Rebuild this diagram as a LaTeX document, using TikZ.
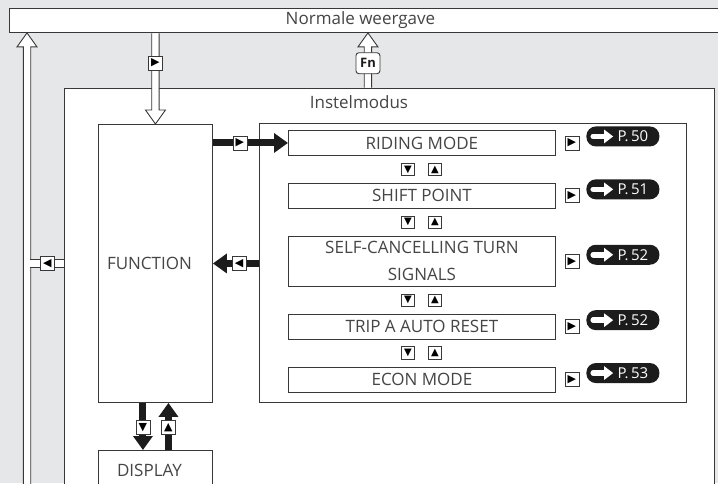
\documentclass[tikz,border=0pt]{standalone}
\usepackage{fontspec}
\setmainfont{Open Sans}
\newfontfamily\symfont{DejaVu Sans}
\usetikzlibrary{arrows.meta,positioning,calc}
\definecolor{bgray}{HTML}{E6E7E8}
\definecolor{ink}{HTML}{383838}
\definecolor{txt}{HTML}{454545}
\definecolor{jet}{HTML}{1C1C1C}

% hollow (outlined) arrow from #1 to the tip #2
\newcommand{\hollowarrow}[2]{%
  \path[hollow] let \p1=(#1), \p2=(#2),
      \n1={atan2(\y2-\y1,\x2-\x1)}, \n2={veclen(\x2-\x1,\y2-\y1)} in
    [shift={(\p1)}, rotate=\n1]
    (0.5,-3.7) -- (\n2-14,-3.7) -- (\n2-14,-10) -- (\n2,0)
    -- (\n2-14,10) -- (\n2-14,3.7) -- (0.5,3.7);}

\begin{document}
\begin{tikzpicture}[x=1pt, y=-1pt,
    frame/.style={draw=ink, fill=white, line width=0.9pt},
    lbl/.style={text=txt, font=\fontsize{17}{20}\selectfont},
    item/.style={frame, lbl, minimum width=267pt, minimum height=25pt, inner sep=1pt, align=center},
    btn/.style={draw=ink, fill=white, line width=0.8pt, minimum size=14pt, inner sep=0pt, font=\symfont\fontsize{11}{11}\selectfont},
    minibtn/.style={btn, minimum size=12.5pt, font=\symfont\fontsize{10}{10}\selectfont},
    fnkey/.style={draw=ink, fill=white, line width=0.9pt, rounded corners=3pt, minimum width=24pt, minimum height=21pt, inner sep=0pt, text=jet, font=\bfseries\fontsize{13}{13}\selectfont},
    pageref/.style={fill=jet, rounded corners=9.5pt, minimum width=73pt, minimum height=20pt, inner sep=0pt, text=white, font=\fontsize{15}{15}\selectfont},
    thickarrow/.style={draw=jet, line width=7pt, -{Triangle[length=14pt, width=19pt]}},
    hollow/.style={draw=ink, fill=white, line width=0.9pt},
    hollowbar/.style={draw=ink, line width=0.9pt, double=white, double distance=6.5pt}
]
\fill[bgray] (0,0) rectangle (718,483);
\useasboundingbox (0,0) rectangle (718,483);
\clip (0,0) rectangle (718,483);

% boxes
\node[frame, anchor=north west, minimum width=722pt, minimum height=24pt, inner sep=0pt,
      label={[lbl, xshift=-10pt]center:Normale weergave}] (normal) at (9,8) {};
\node[frame, anchor=north west, minimum width=650pt, minimum height=420pt] (mode) at (64,88) {};
\node[lbl] (modelab) at (359,102) {Instelmodus};
\node[frame, anchor=north west, minimum width=114pt, minimum height=278pt,
      label={[lbl, xshift=-6pt]center:FUNCTION}] (func) at (98,124) {};
\node[frame, anchor=north west, minimum width=114pt, minimum height=40pt,
      label={[lbl, xshift=-6pt]center:DISPLAY}] (disp) at (98,450) {};
\node[frame, anchor=north west, minimum width=427pt, minimum height=279pt] (list) at (259,123) {};

% menu items
\node[item, anchor=north west] (riding) at (288,130) {RIDING MODE};
\node[item, below=27pt of riding] (shift) {SHIFT POINT};
\node[item, below=27pt of shift, minimum height=50pt] (selfc) {SELF-CANCELLING TURN\\[7pt]SIGNALS};
\node[item, below=27pt of selfc] (trip) {TRIP A AUTO RESET};
\node[item, below=27pt of trip] (econ) {ECON MODE};

\foreach \a/\b in {riding/shift, shift/selfc, selfc/trip, trip/econ} {
  \node[minibtn] (dn-\a) at ($(\a.south)!0.5!(\b.north)+(-14,0)$) {▼};
  \node[minibtn] (up-\a) at ($(\a.south)!0.5!(\b.north)+(13,0)$) {▲};
}

\foreach \row/\pg in {riding/50, shift/51, selfc/52, trip/52, econ/53} {
  \node[btn] (go-\row) at ([xshift=16pt]\row.east) {▶};
  \node[pageref] (ref-\row) at ([xshift=67pt, yshift=6.5pt]\row.east) {\hspace*{20pt}P.\,\pg};
  \draw[white, line width=5.5pt, line cap=round, -{Triangle[length=9pt, width=13pt]}]
    ([xshift=7pt]ref-\row.west) -- ++(20,0);
}

% hollow connectors
\coordinate (leftfoot) at (27,500);
\hollowarrow{leftfoot}{leftfoot |- normal.south}
\coordinate (backjoin) at (leftfoot |- func.east);
\draw[hollowbar] (mode.west |- func.east) -- ([xshift=3pt]backjoin);
\node[btn] (back) at ($(mode.west |- func.east)!0.45!(backjoin)$) {◀};

\hollowarrow{func.north |- normal.south}{func.north}
\node[btn] (enter) at ($(func.north |- normal.south)!0.33!(func.north)$) {▶};

\coordinate (fnfoot) at ([xshift=-21.5pt]mode.north);
\coordinate (fntip) at (fnfoot |- normal.south);
\hollowarrow{fnfoot}{fntip}
\node[fnkey] (fn) at ($(fnfoot)!0.45!(fntip)$) {Fn};

% solid connectors
\draw[thickarrow] (func.east |- riding.west) -- node[btn, pos=0.36] (sel) {▶} (riding.west);
\draw[thickarrow] (list.west |- func.east) -- node[btn, pos=0.43] (ret) {◀} (func.east);
\draw[thickarrow] ([xshift=-12.5pt]func.south) -- node[btn, pos=0.52] (down) {▼} ([xshift=-12.5pt]disp.north);
\draw[thickarrow] ([xshift=13pt]disp.north) -- node[btn, pos=0.48] (up) {▲} ([xshift=13pt]func.south);
\end{tikzpicture}
\end{document}
